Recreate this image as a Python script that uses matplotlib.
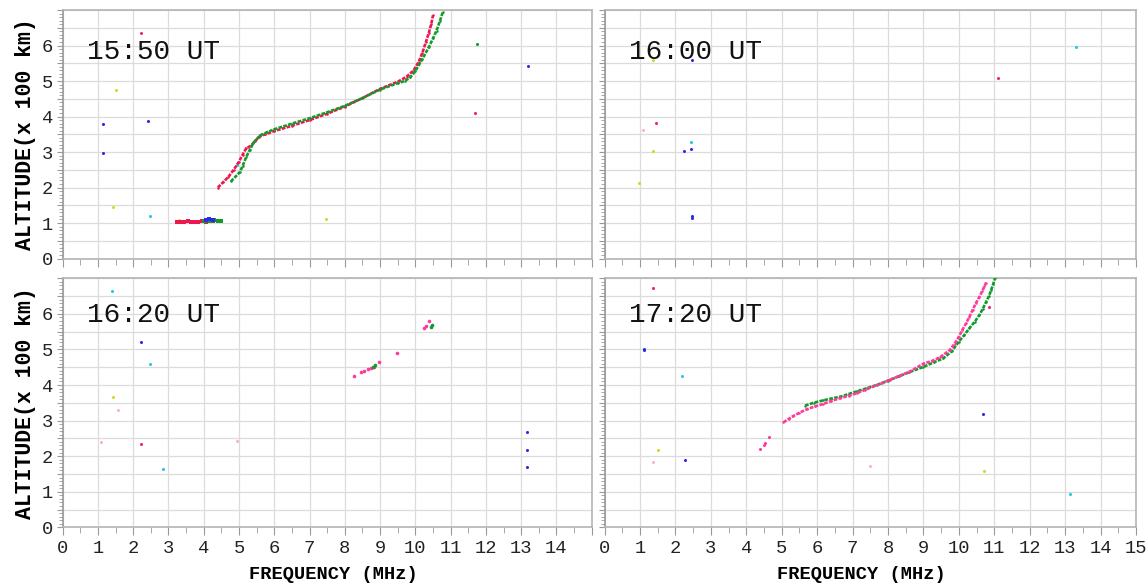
import numpy as np
import matplotlib.pyplot as plt
from matplotlib.ticker import MultipleLocator, FuncFormatter

# painel 15:50 UT
f1550_red = [4.4, 4.55, 4.7, 4.85, 5.0, 5.1, 5.2, 5.34, 5.45, 5.57, 5.75, 6.0, 6.5, 7.0, 7.5, 8.0, 8.5, 9.0, 9.5,
             9.75, 9.95, 10.1, 10.2, 10.3, 10.38, 10.45, 10.5]
a1550_red = [2.0, 2.15, 2.3, 2.5, 2.73, 2.92, 3.1, 3.18, 3.3, 3.43, 3.5, 3.59, 3.74, 3.9, 4.08, 4.28, 4.52, 4.78, 4.98,
             5.12, 5.3, 5.55, 5.8, 6.1, 6.35, 6.6, 6.85]
f1550_grn = [4.77, 5.02, 5.1, 5.2, 5.3, 5.4, 5.6, 5.8, 6.0, 6.5, 7.0, 7.5, 8.0, 8.5, 9.0, 9.5, 9.7, 9.85, 10.0, 10.2,
             10.38, 10.5, 10.6, 10.7, 10.78]
a1550_grn = [2.17, 2.43, 2.6, 2.85, 3.05, 3.25, 3.47, 3.56, 3.64, 3.8, 3.95, 4.12, 4.3, 4.52, 4.76, 4.94, 5.0, 5.1, 5.28,
             5.62, 5.95, 6.2, 6.42, 6.7, 6.95]
f1550_Ered = [3.25, 3.35, 3.45, 3.55, 3.65, 3.75, 3.85, 3.95, 4.05, 4.15, 4.25]
a1550_Ered = [1.04, 1.02, 1.03, 1.05, 1.02, 1.04, 1.03, 1.05, 1.04, 1.05, 1.06]
f1550_Egrn = [4.0, 4.1, 4.2, 4.3, 4.4, 4.5]
a1550_Egrn = [1.05, 1.07, 1.06, 1.08, 1.05, 1.07]
f1550_Eblu = [4.05, 4.15, 4.25]
a1550_Eblu = [1.09, 1.1, 1.08]
# pontos soltos (freq, alt, cor)
soltos_1550 = [(1.13, 3.78, 'b'), (1.13, 2.97, 'b'), (1.5, 4.75, 'y'), (1.43, 1.45, 'y'), (2.23, 6.35, 'p'),
               (2.43, 3.88, 'b'), (2.48, 1.2, 'c'), (4.93, 2.63, 'c'), (7.47, 1.1, 'y'), (11.74, 6.04, 'g'),
               (13.2, 5.42, 'b'), (11.7, 4.1, 'p'), (3.3, 1.08, 'y')]

# painel 16:00 UT
soltos_1600 = [(11.11, 5.09, 'p'), (13.31, 5.95, 'c'), (1.45, 3.82, 'p'), (1.08, 3.63, 'l'), (2.43, 3.29, 'c'),
               (2.43, 3.08, 'b'), (2.23, 3.02, 'b'), (1.38, 3.02, 'y'), (0.98, 2.12, 'y'), (2.48, 1.19, 'b'),
               (2.48, 1.14, 'b'), (2.48, 5.59, 'b'), (1.37, 5.6, 'y')]

# painel 16:20 UT
f1620_red = [8.27, 8.45, 8.55, 8.65, 8.75, 8.84, 8.97, 9.49, 10.24, 10.29, 10.39]
a1620_red = [4.25, 4.36, 4.4, 4.45, 4.48, 4.52, 4.66, 4.91, 5.6, 5.65, 5.79]
f1620_grn = [8.8, 8.86, 10.45, 10.46]
a1620_grn = [4.5, 4.55, 5.63, 5.68]
soltos_1620 = [(1.39, 6.63, 'c'), (2.23, 5.22, 'b'), (2.49, 4.6, 'c'), (1.42, 3.66, 'y'), (1.58, 3.31, 'l'),
               (1.09, 2.39, 'l'), (2.23, 2.34, 'p'), (4.95, 2.44, 'l'), (2.84, 1.64, 'c'), (13.17, 2.68, 'b'),
               (13.17, 2.18, 'b'), (13.17, 1.7, 'b')]

# painel 17:20 UT
f1720_red = [5.05, 5.2, 5.33, 5.5, 5.71, 5.95, 6.18, 6.4, 6.65, 6.9, 7.12, 7.35, 7.59, 7.82, 8.06, 8.3, 8.6, 9.0,
             9.25, 9.47, 9.74, 9.88, 10.0, 10.1, 10.2, 10.3, 10.39, 10.48, 10.58, 10.66, 10.72, 10.77]
a1720_red = [2.95, 3.05, 3.13, 3.22, 3.32, 3.4, 3.47, 3.55, 3.63, 3.7, 3.77, 3.86, 3.96, 4.05, 4.15, 4.25, 4.37, 4.6,
             4.68, 4.78, 4.98, 5.16, 5.36, 5.55, 5.73, 5.92, 6.11, 6.3, 6.48, 6.64, 6.77, 6.88]
f1720_grn = [5.66, 5.9, 6.18, 6.4, 6.65, 6.9, 7.12, 7.4, 7.68, 8.0, 8.3, 8.6, 9.0, 9.3, 9.56, 9.8, 10.0, 10.15, 10.3,
             10.45, 10.58, 10.68, 10.77, 10.85, 10.91, 10.97, 11.02]
a1720_grn = [3.42, 3.5, 3.57, 3.62, 3.67, 3.75, 3.82, 3.91, 4.0, 4.12, 4.24, 4.36, 4.51, 4.64, 4.75, 4.95, 5.22, 5.4,
             5.6, 5.78, 5.97, 6.15, 6.34, 6.5, 6.67, 6.84, 7.0]
f1720_low = [4.38, 4.49, 4.54, 4.65]
a1720_low = [2.19, 2.31, 2.38, 2.53]
soltos_1720 = [(1.38, 6.72, 'p'), (1.12, 4.98, 'b'), (1.12, 5.02, 'b'), (2.18, 4.25, 'c'), (10.69, 3.19, 'b'),
               (1.52, 2.18, 'y'), (1.38, 1.83, 'l'), (2.28, 1.88, 'b'), (7.48, 1.73, 'l'), (10.7, 1.58, 'y'),
               (13.15, 0.93, 'c'), (10.86, 6.18, 'p')]

cores = {'b': '#2a2ae8', 'c': '#22c8e8', 'y': '#d8d820', 'p': '#f0207a', 'g': '#109a30', 'l': '#ffb0c8'}
vermelho = '#ee1650'
rosa = '#ff3a9a'
verde = '#129a2c'

plt.rcParams['font.family'] = ['Liberation Mono', 'DejaVu Sans Mono']

fig = plt.figure(figsize=(11.46, 5.87), dpi=100)
pos = [[0.0547, 0.5596, 0.4616, 0.4233], [0.5275, 0.5596, 0.4638, 0.4233],
       [0.0547, 0.1017, 0.4616, 0.4242], [0.5275, 0.1017, 0.4638, 0.4242]]
axs = [fig.add_axes(p) for p in pos]
titulos = ['15:50 UT', '16:00 UT', '16:20 UT', '17:20 UT']


def soltos(ax, pts):
    for fx, ay, c in pts:
        ax.plot(fx, ay, 'o', ms=2.2, color=cores[c], mew=0, zorder=3)


def traco(ax, fx, ay, cor):
    # traço pontilhado, como os ecos do ionograma
    ax.plot(fx, ay, color=cor, lw=1.9, zorder=4, linestyle=(0, (1.4, 0.5)))
    ax.plot(fx, ay, 'o', ms=1.8, color=cor, mew=0, zorder=4)


# 15:50
traco(axs[0], f1550_red, a1550_red, vermelho)
traco(axs[0], f1550_grn, a1550_grn, verde)
axs[0].plot(f1550_Ered, a1550_Ered, 's', ms=2.6, color=vermelho, mew=0, zorder=4)
axs[0].plot(f1550_Egrn, a1550_Egrn, 's', ms=2.8, color=verde, mew=0, zorder=4)
axs[0].plot(f1550_Eblu, a1550_Eblu, 's', ms=2.6, color=cores['b'], mew=0, zorder=5)
soltos(axs[0], soltos_1550)
# 16:00
soltos(axs[1], soltos_1600)
# 16:20
axs[2].plot(f1620_red, a1620_red, 'o', ms=2.6, color=rosa, mew=0, zorder=4)
axs[2].plot(f1620_grn, a1620_grn, 'o', ms=2.6, color=verde, mew=0, zorder=5)
soltos(axs[2], soltos_1620)
# 17:20
traco(axs[3], f1720_grn, a1720_grn, verde)
traco(axs[3], f1720_red, a1720_red, rosa)
axs[3].plot(f1720_low, a1720_low, 'o', ms=2.2, color=rosa, mew=0, zorder=4)
soltos(axs[3], soltos_1720)

for i, ax in enumerate(axs):
    ax.set_xlim(0, 15)
    ax.set_ylim(0, 7)
    ax.xaxis.set_major_locator(MultipleLocator(1))
    ax.xaxis.set_minor_locator(MultipleLocator(0.5))
    ax.yaxis.set_major_locator(MultipleLocator(0.5))
    ax.yaxis.set_minor_locator(MultipleLocator(0.1))
    ax.grid(True, which='major', color='#dcdcdc', lw=0.9, zorder=0)
    ax.set_axisbelow(True)
    for s in ax.spines.values():
        s.set_color('#b4b4b4')
        s.set_linewidth(1.2)
    ax.spines['left'].set_color('#999999')
    ax.tick_params(axis='both', which='both', direction='out', colors='#999999', labelcolor='#222222',
                   labelsize=13.5, pad=3)
    ax.tick_params(axis='x', which='major', length=6)
    ax.tick_params(axis='x', which='minor', length=4)
    ax.tick_params(axis='y', which='major', length=4)
    ax.tick_params(axis='y', which='minor', length=3)
    esquerda = i in (0, 2)
    baixo = i in (2, 3)
    if esquerda:
        ax.yaxis.set_major_formatter(FuncFormatter(
            lambda v, p: '%d' % v if abs(v - round(v)) < 1e-6 and v < 6.5 else ''))
        ax.set_ylabel('ALTITUDE(x 100 km)', fontsize=15.5, fontweight='bold', labelpad=4)
    else:
        ax.tick_params(axis='y', labelleft=False)
    if baixo:
        if esquerda:
            ax.xaxis.set_major_formatter(FuncFormatter(lambda v, p: '%d' % v if v < 14.5 else ''))
        else:
            ax.xaxis.set_major_formatter(FuncFormatter(lambda v, p: '%d' % v))
        ax.set_xlabel('FREQUENCY (MHz)', fontsize=13.5, fontweight='bold')
        ax.xaxis.set_label_coords(0.512 if esquerda else 0.483, -0.155)
    else:
        ax.tick_params(axis='x', labelbottom=False)
    ytit = 5.82 if i < 2 else 5.98
    ax.text(0.7, ytit, titulos[i], fontsize=20, va='center', ha='left', color='#111111', zorder=6)

fig.savefig('out.png', dpi=100)
